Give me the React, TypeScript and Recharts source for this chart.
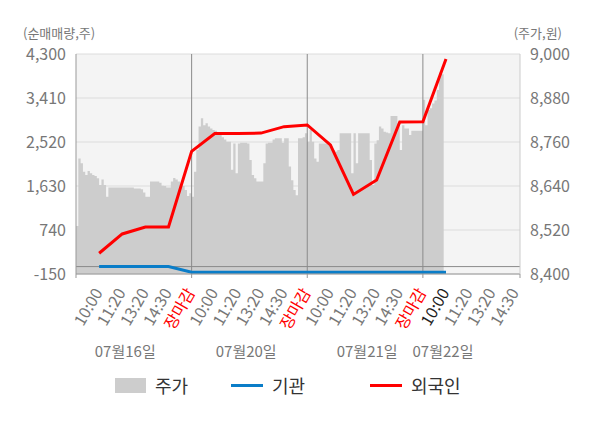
import React from "react";
import {
  Area,
  CartesianGrid,
  ComposedChart,
  Legend,
  Line,
  ReferenceLine,
  XAxis,
  YAxis,
} from "recharts";

if (typeof document !== "undefined") document.body.style.margin = "0";

const FONT = "'Noto Sans CJK KR', 'Noto Sans', sans-serif";

// x axis: one slot per tick, five slots per trading day
const xTickLabels = [
  "10:00", "11:20", "13:20", "14:30", "장마감",
  "10:00", "11:20", "13:20", "14:30", "장마감",
  "10:00", "11:20", "13:20", "14:30", "장마감",
  "10:00", "11:20", "13:20", "14:30",
];
const dateLabels = ["07월16일", "07월20일", "07월21일", "07월22일"];
const dateTickAt = [2.13, 7.36, 12.59, 15.87];
const dayBreaks = [5, 10, 15];

const leftTicks = [-150, 740, 1630, 2520, 3410, 4300];
const rightTicks = [8400, 8520, 8640, 8760, 8880, 9000];

// 주가, sampled every 1/10 slot
const priceDay1 = [
  8531, 8715, 8702, 8679, 8670, 8681, 8675, 8670, 8667, 8661,
  8643, 8658, 8643, 8611, 8636, 8636, 8636, 8636, 8636, 8636,
  8636, 8636, 8636, 8636, 8636, 8633, 8633, 8633, 8631, 8622,
  8611, 8611, 8652, 8652, 8652, 8652, 8649, 8641, 8640, 8636,
  8636, 8652, 8662, 8658, 8652, 8645, 8640, 8629, 8613, 8620,
];
const priceDay2 = [
  8611, 8679, 8738, 8802, 8825, 8806, 8811, 8802, 8797, 8793,
  8791, 8784, 8779, 8773, 8767, 8761, 8761, 8684, 8756, 8675,
  8756, 8758, 8758, 8758, 8756, 8711, 8670, 8661, 8652, 8652,
  8652, 8702, 8756, 8758, 8758, 8767, 8770, 8770, 8770, 8758,
  8770, 8770, 8693, 8656, 8629, 8615, 8770, 8770, 8773, 8784,
];
const priceDay3 = [
  8761, 8793, 8761, 8715, 8706, 8756, 8756, 8756, 8756, 8756,
  8747, 8738, 8734, 8738, 8784, 8784, 8784, 8784, 8784, 8675,
  8784, 8702, 8784, 8784, 8784, 8784, 8784, 8711, 8643, 8756,
  8765, 8802, 8797, 8788, 8786, 8784, 8831, 8831, 8831, 8811,
  8738, 8806, 8797, 8797, 8779, 8791, 8791, 8791, 8791, 8791,
];
const priceDay4 = [8875, 8806, 8847, 8852, 8865, 8873, 8902, 8949, 8945, 8942];

// 순매매량, one value per tick from the first 10:00
const foreignNet = [
  270, 660, 800, 800, 2330, 2690, 2690, 2700, 2830, 2865, 2460, 1460, 1750, 2925, 2930, 4200,
];
const institutionNet = [
  0, 0, 0, 0, -115, -115, -115, -115, -115, -115, -115, -115, -115, -115, -115, -115,
];

type Row = { x: number; price?: number; foreign?: number; institution?: number };

const byKey = new Map<number, Row>();
const rowAt = (k: number) => {
  let r = byKey.get(k);
  if (!r) {
    r = { x: k / 10 };
    byKey.set(k, r);
  }
  return r;
};
[priceDay1, priceDay2, priceDay3, priceDay4].forEach((day, d) =>
  day.forEach((p, i) => {
    rowAt(d * 50 + i).price = p;
  })
);
foreignNet.forEach((v, i) => {
  rowAt((i + 1) * 10).foreign = v;
});
institutionNet.forEach((v, i) => {
  rowAt((i + 1) * 10).institution = v;
});
const rows = [...byKey.values()].sort((a, b) => a.x - b.x);

const X_END = 19.2;
const xTicks = [0, ...xTickLabels.map((_, i) => i + 1), X_END];

function TimeTick(props: any) {
  const { x, y, payload } = props;
  const v = payload.value;
  const isMark = v === 0 || v === X_END || dayBreaks.includes(v);
  const label = Number.isInteger(v) && v >= 1 ? xTickLabels[v - 1] : null;
  let fill = "#777";
  if (label === "장마감") fill = "#ff0000";
  if (v === 16) fill = "#222";
  return (
    <g>
      {isMark && <line x1={x} x2={x} y1={y} y2={y + 4} stroke="#999" />}
      {label && (
        <text
          transform={`translate(${x + 4},${y + 18.5}) rotate(-60)`}
          textAnchor="end"
          fontSize={16}
          fontFamily={FONT}
          fill={fill}
        >
          {label}
        </text>
      )}
    </g>
  );
}

function DateTick(props: any) {
  const { x, y, index } = props;
  return (
    <text x={x} y={y + 19} textAnchor="middle" fontSize={15} fontFamily={FONT} fill="#777">
      {dateLabels[index] ?? ""}
    </text>
  );
}

function LegendContent() {
  const item = (left: number, icon: React.ReactNode, text: string) => (
    <div
      style={{
        position: "absolute",
        left,
        top: 0,
        height: 34,
        display: "flex",
        alignItems: "center",
        gap: 9,
        fontSize: 18,
        color: "#333",
        fontFamily: FONT,
      }}
    >
      {icon}
      <span>{text}</span>
    </div>
  );
  return (
    <div style={{ position: "relative", width: 600, height: 34 }}>
      {item(115, <div style={{ width: 31, height: 15, background: "#cdcdcd" }} />, "주가")}
      {item(231, <div style={{ width: 32, height: 3, background: "#0a7dc8" }} />, "기관")}
      {item(370, <div style={{ width: 32, height: 3, background: "#ff0000" }} />, "외국인")}
    </div>
  );
}

export default function App() {
  return (
    <div style={{ width: 600, height: 428, background: "#fff", fontFamily: FONT }}>
      <ComposedChart
        width={600}
        height={428}
        data={rows}
        margin={{ top: 54, right: 0, bottom: 60, left: 0 }}
      >
        <text x={23} y={38} fontSize={13} fill="#777" fontFamily={FONT}>
          (순매매량,주)
        </text>
        <text x={562} y={38} fontSize={13} fill="#777" fontFamily={FONT} textAnchor="end">
          (주가,원)
        </text>
        <CartesianGrid yAxisId="left" vertical={false} stroke="#dcdcdc" fill="#f4f4f4" fillOpacity={1} />
        <XAxis
          dataKey="x"
          type="number"
          domain={[0, X_END]}
          ticks={xTicks}
          interval={0}
          tickSize={0}
          tickMargin={0}
          height={64}
          allowDataOverflow
          axisLine={{ stroke: "#999" }}
          tick={<TimeTick />}
        />
        <XAxis
          xAxisId="date"
          dataKey="x"
          type="number"
          domain={[0, X_END]}
          ticks={dateTickAt}
          interval={0}
          tickSize={0}
          tickMargin={0}
          height={30}
          allowDataOverflow
          axisLine={false}
          tickLine={false}
          tick={<DateTick />}
        />
        <YAxis
          yAxisId="left"
          domain={[-150, 4300]}
          ticks={leftTicks}
          interval={0}
          width={76}
          allowDataOverflow
          axisLine={{ stroke: "#999" }}
          tickLine={false}
          tickMargin={4}
          tick={{ fill: "#777", fontSize: 16, fontFamily: FONT }}
          tickFormatter={(v: number) => v.toLocaleString("en-US")}
        />
        <YAxis
          yAxisId="right"
          orientation="right"
          domain={[8400, 9000]}
          ticks={rightTicks}
          interval={0}
          width={80}
          allowDataOverflow
          axisLine={{ stroke: "#ccc" }}
          tickLine={false}
          tickMargin={4}
          tick={{ fill: "#777", fontSize: 16, fontFamily: FONT }}
          tickFormatter={(v: number) => v.toLocaleString("en-US")}
        />
        <Area
          yAxisId="right"
          dataKey="price"
          name="주가"
          type="stepAfter"
          stroke="none"
          fill="#cdcdcd"
          fillOpacity={1}
          isAnimationActive={false}
        />
        {dayBreaks.map((d) => (
          <ReferenceLine key={d} yAxisId="left" x={d} stroke="#8a8a8a" />
        ))}
        <ReferenceLine yAxisId="left" y={0} stroke="#8a8a8a" />
        <Line
          yAxisId="left"
          dataKey="institution"
          name="기관"
          stroke="#0a7dc8"
          strokeWidth={3}
          dot={false}
          connectNulls
          isAnimationActive={false}
        />
        <Line
          yAxisId="left"
          dataKey="foreign"
          name="외국인"
          stroke="#ff0000"
          strokeWidth={3}
          dot={false}
          connectNulls
          isAnimationActive={false}
        />
        <Legend
          verticalAlign="middle"
          align="center"
          layout="horizontal"
          wrapperStyle={{ top: 368, left: 0, width: 600, height: 34 }}
          content={<LegendContent />}
        />
      </ComposedChart>
    </div>
  );
}
